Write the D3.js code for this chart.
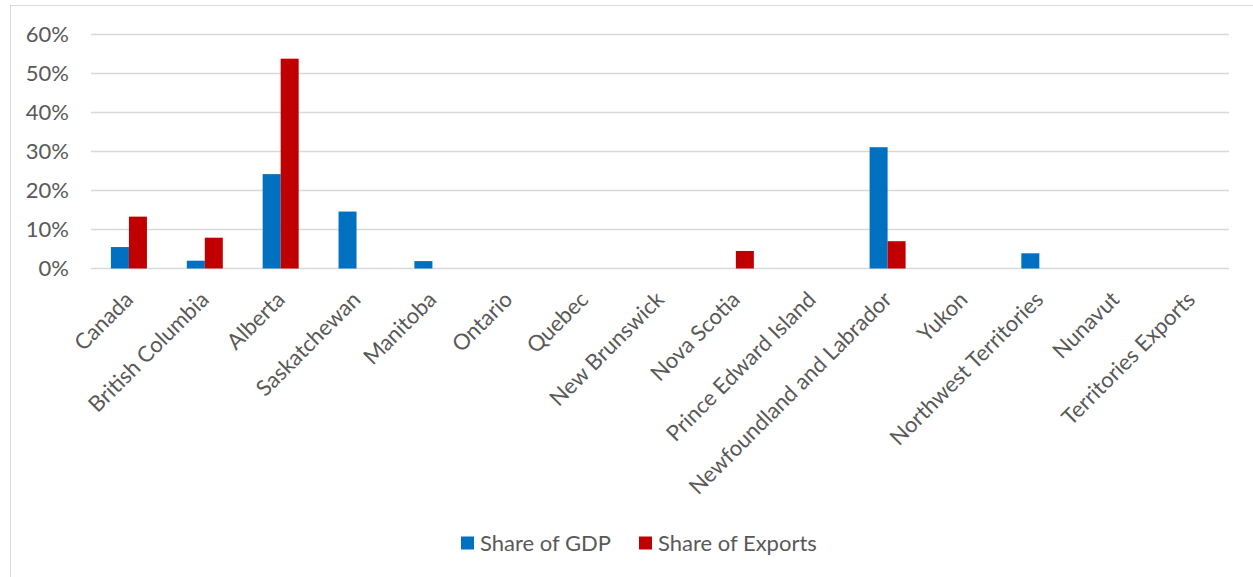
<!DOCTYPE html>
<html>
<head>
<meta charset="utf-8">
<script src="https://cdn.jsdelivr.net/npm/d3@7"></script>
<style>
  html, body { margin: 0; padding: 0; background: #fff; }
  svg { display: block; }
  text { font-family: Lato, "Open Sans", sans-serif; fill: #595959; }
</style>
</head>
<body>
<svg id="chart" width="1253" height="577"></svg>
<script>
// Provinces and territories along the category axis
const regions = [
  "Canada", "British Columbia", "Alberta", "Saskatchewan", "Manitoba",
  "Ontario", "Quebec", "New Brunswick", "Nova Scotia", "Prince Edward Island",
  "Newfoundland and Labrador", "Yukon", "Northwest Territories", "Nunavut",
  "Territories Exports"
];
// Oil and gas share of GDP (%)
const shareOfGDP = [5.5, 2.0, 24.2, 14.6, 1.9, 0, 0, 0, 0, 0, 31.1, 0, 3.9, 0, 0];
// Oil and gas share of exports (%)
const shareOfExports = [13.3, 7.9, 53.8, 0, 0, 0, 0, 0, 4.5, 0, 7.0, 0, 0, 0, 0];
// Value-axis ticks (%)
const yTicks = [0, 10, 20, 30, 40, 50, 60];

const seriesNames = ["Share of GDP", "Share of Exports"];
const seriesColors = ["#0070C0", "#C00000"];

const FONT = "Lato";
const FS = 22;

const svg = d3.select("#chart");
const margin = { left: 91, right: 24, top: 34.5, bottom: 308.5 };
const W = 1253, H = 577;
const plotRight = W - margin.right;
const plotBottom = H - margin.bottom;

// Outer chart frame
svg.append("rect")
  .attr("x", 10.5).attr("y", 5.5)
  .attr("width", 1300).attr("height", 700)
  .attr("fill", "none").attr("stroke", "#d9d9d9").attr("stroke-width", 1);

const x = d3.scaleBand().domain(regions).range([margin.left, plotRight]).padding(0);
const groupFrac = 0.4745;
const xs = d3.scaleBand().domain(seriesNames)
  .range([0, x.bandwidth() * groupFrac]).padding(0);
const y = d3.scaleLinear().domain([0, 60]).range([plotBottom, margin.top]);

// Horizontal gridlines
svg.append("g")
  .selectAll("line").data(yTicks).join("line")
  .attr("x1", margin.left).attr("x2", plotRight)
  .attr("y1", d => y(d)).attr("y2", d => y(d))
  .attr("stroke", "#d9d9d9").attr("stroke-width", 1.3);

// Y axis labels
const yAxis = d3.axisLeft(y).tickValues(yTicks).tickFormat(d => d + "%").tickSize(0).tickPadding(0);
const gy = svg.append("g").attr("transform", `translate(69,0)`).call(yAxis);
gy.select(".domain").remove();
gy.selectAll("text").attr("font-size", FS).attr("font-family", FONT).attr("fill", "#595959");

// Bars
const groups = svg.append("g").selectAll("g").data(regions).join("g")
  .attr("transform", d => `translate(${x(d) + x.bandwidth() * (1 - groupFrac) / 2},0)`);
groups.selectAll("rect")
  .data((d, i) => [shareOfGDP[i], shareOfExports[i]].map((v, k) => ({ v, k })))
  .join("rect")
  .filter(d => d.v > 0)
  .attr("x", d => xs(seriesNames[d.k]))
  .attr("width", xs.bandwidth())
  .attr("y", d => y(d.v))
  .attr("height", d => plotBottom - y(d.v))
  .attr("fill", d => seriesColors[d.k]);

// Category axis labels, rotated
const xAxis = d3.axisBottom(x).tickSize(0).tickPadding(0);
const gx = svg.append("g").attr("transform", `translate(0,${plotBottom})`).call(xAxis);
gx.select(".domain").remove();
gx.selectAll("text")
  .attr("font-size", FS).attr("font-family", FONT).attr("fill", "#595959")
  .attr("text-anchor", "end")
  .attr("dy", "0.35em")
  .attr("transform", "translate(0,27) rotate(-45)")
  .attr("y", 0);

// Legend
const legend = svg.append("g");
const legendX = [461, 639];
seriesNames.forEach((name, i) => {
  legend.append("rect")
    .attr("x", legendX[i]).attr("y", 536.5)
    .attr("width", 13).attr("height", 13)
    .attr("fill", seriesColors[i]);
  legend.append("text")
    .attr("x", legendX[i] + 19).attr("y", 543)
    .attr("dy", "0.35em")
    .attr("font-size", FS)
    .attr("font-family", FONT)
    .text(name);
});
</script>
</body>
</html>
